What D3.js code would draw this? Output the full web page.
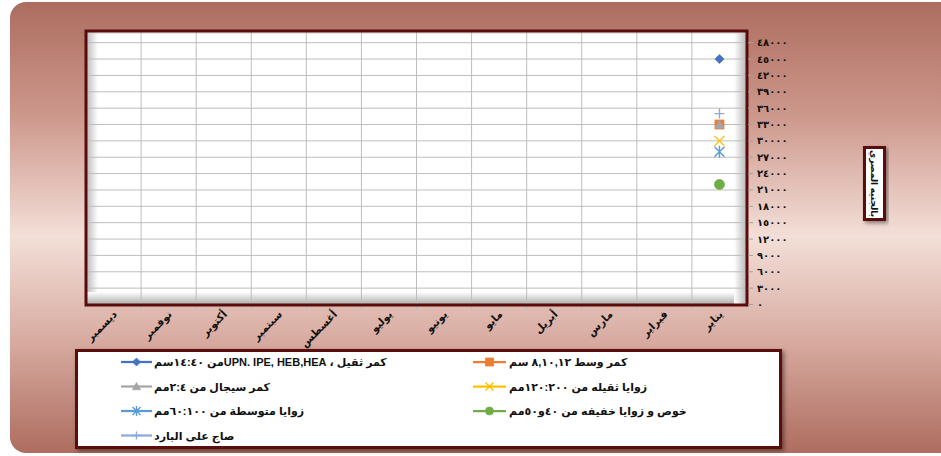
<!DOCTYPE html>
<html lang="ar">
<head>
<meta charset="utf-8">
<title>chart</title>
<script src="https://cdn.jsdelivr.net/npm/d3@7/dist/d3.min.js"></script>
<style>
  body { margin: 0; background: #fff; }
  svg { display: block; }
  text { font-family: "Liberation Sans", "DejaVu Sans", sans-serif; font-weight: bold; }
</style>
</head>
<body>
<script>
// ---- data ----
var months = ["يناير", "فبراير", "مارس", "أبريل", "مايو", "يونيو",
              "يوليو", "أغسطس", "سبتمبر", "أكتوبر", "نوفمبر", "ديسمبر"];

var seriesNames = [
  "كمر ثقيل ، UPN. IPE,   HEB,HEAمن ١٤:٤٠سم",
  "كمر وسط ٨,١٠,١٢ سم",
  "كمر سيجال من ٢:٤مم",
  "زوايا ثقيله من ١٢٠:٢٠٠مم",
  "زوايا متوسطة من ٦٠:١٠٠مم",
  "خوص و زوايا خفيفه من ٤٠و٥٠مم",
  "صاج على البارد"
];

var heavyBeams   = [45000, null, null, null, null, null, null, null, null, null, null, null];
var mediumBeams  = [33000, null, null, null, null, null, null, null, null, null, null, null];
var cigalBeams   = [33000, null, null, null, null, null, null, null, null, null, null, null];
var heavyAngles  = [30000, null, null, null, null, null, null, null, null, null, null, null];
var mediumAngles = [28000, null, null, null, null, null, null, null, null, null, null, null];
var lightAngles  = [22000, null, null, null, null, null, null, null, null, null, null, null];
var coldSheet    = [35000, null, null, null, null, null, null, null, null, null, null, null];

var yTicks = d3.range(0, 48001, 3000);
var yTitle = "بالجنيه المصري";

var seriesValues = [heavyBeams, mediumBeams, cigalBeams, heavyAngles, mediumAngles, lightAngles, coldSheet];
var colors = ["#4472C4", "#ED7D31", "#A5A5A5", "#FFC000", "#5B9BD5", "#70AD47", "#8EA9DB"];
var markers = ["diamond", "square", "triangle", "times", "asterisk", "circle", "plus"];

// ---- layout ----
var w = 941, h = 456;
var frameColor = "#5a0c0c";

function arDigits(n) {
  return String(n).replace(/\d/g, function(c) { return "٠١٢٣٤٥٦٧٨٩"[c]; });
}

var svg = d3.select("body").append("svg")
  .attr("width", w)
  .attr("height", h);

var defs = svg.append("defs");

var bg = defs.append("linearGradient").attr("id", "bg")
  .attr("x1", 0).attr("y1", 0).attr("x2", 0).attr("y2", 1);
bg.append("stop").attr("offset", "0").attr("stop-color", "#ac6d5f");
bg.append("stop").attr("offset", "0.25").attr("stop-color", "#cd978b");
bg.append("stop").attr("offset", "0.52").attr("stop-color", "#f3dfd8");
bg.append("stop").attr("offset", "0.75").attr("stop-color", "#d8aba1");
bg.append("stop").attr("offset", "1").attr("stop-color", "#ad6d5f");

function bevel(id, x1, y1, x2, y2, from, to) {
  var g = defs.append("linearGradient").attr("id", id)
    .attr("x1", x1).attr("y1", y1).attr("x2", x2).attr("y2", y2);
  g.append("stop").attr("offset", "0").attr("stop-color", from);
  g.append("stop").attr("offset", "1").attr("stop-color", to);
}
bevel("bevL", 0, 0, 1, 0, "#b8b8b8", "#ffffff");
bevel("bevB", 0, 0, 0, 1, "#ffffff", "#a8a8a8");
bevel("bevR", 0, 0, 1, 0, "#ffffff", "#b4b4b4");

var sh = defs.append("filter").attr("id", "shadow")
  .attr("x", "-10%").attr("y", "-10%").attr("width", "130%").attr("height", "140%");
sh.append("feDropShadow").attr("dx", 2).attr("dy", 2).attr("stdDeviation", 2)
  .attr("flood-color", "#000").attr("flood-opacity", 0.45);

// background
svg.append("rect")
  .attr("x", 10).attr("y", 2)
  .attr("width", 960).attr("height", 451)
  .attr("rx", 16)
  .attr("fill", "url(#bg)");

// plot frame
var px0 = 86, px1 = 747, py0 = 31, py1 = 305;

svg.append("rect")
  .attr("x", px0).attr("y", py0)
  .attr("width", px1 - px0).attr("height", py1 - py0)
  .attr("fill", "#fff");
svg.append("rect").attr("x", px0).attr("y", py0).attr("width", 12).attr("height", py1 - py0).attr("fill", "url(#bevL)");
svg.append("rect").attr("x", px0).attr("y", py1 - 13).attr("width", px1 - px0).attr("height", 13).attr("fill", "url(#bevB)");
svg.append("rect").attr("x", px1 - 13).attr("y", py0).attr("width", 13).attr("height", py1 - py0).attr("fill", "url(#bevR)");
svg.append("line").attr("x1", px0).attr("x2", px1).attr("y1", py0 + 2).attr("y2", py0 + 2)
  .attr("stroke", "#d0d0d0");

var x = d3.scaleBand().domain(months).range([px1, px0]);
var y = d3.scaleLinear().domain([0, 48000]).range([304.5, 42.7]);

// gridlines
svg.append("g").selectAll("line.h")
  .data(yTicks)
  .enter().append("line")
  .attr("x1", px0).attr("x2", px1)
  .attr("y1", function(d) { return y(d); })
  .attr("y2", function(d) { return y(d); })
  .attr("stroke", "#bdbdbd").attr("stroke-width", 1);

var bounds = months.map(function(m) { return x(m); }).concat([px1]);
svg.append("g").selectAll("line")
  .data(bounds)
  .enter().append("line")
  .attr("x1", function(d) { return d; })
  .attr("x2", function(d) { return d; })
  .attr("y1", py0).attr("y2", py1 + 5)
  .attr("stroke", "#bdbdbd").attr("stroke-width", 1);

svg.append("rect")
  .attr("x", px0).attr("y", py0)
  .attr("width", px1 - px0).attr("height", py1 - py0)
  .attr("fill", "none")
  .attr("stroke", frameColor).attr("stroke-width", 3);

// y axis on the right
var yAxis = svg.append("g");
yAxis.selectAll("line")
  .data(yTicks)
  .enter().append("line")
  .attr("x1", px1 + 1).attr("x2", px1 + 6)
  .attr("y1", function(d) { return y(d); })
  .attr("y2", function(d) { return y(d); })
  .attr("stroke", "#a0a0a0");
yAxis.selectAll("text")
  .data(yTicks)
  .enter().append("text")
  .attr("x", 757)
  .attr("y", function(d) { return y(d) + 3.5; })
  .attr("font-size", "10px")
  .attr("letter-spacing", "1.6px")
  .attr("fill", "#111")
  .text(function(d) { return arDigits(d); });

// x labels
svg.append("g").selectAll("text")
  .data(months)
  .enter().append("text")
  .attr("transform", function(d) {
    return "translate(" + (x(d) + x.bandwidth() / 2 + 4) + ",315) rotate(-45)";
  })
  .attr("direction", "rtl")
  .attr("text-anchor", "start")
  .attr("font-size", "10.5px")
  .attr("fill", "#111")
  .text(function(d) { return d; });

// markers
function markerPath(type, s) {
  var r = s / 2;
  switch (type) {
    case "diamond": return "M0," + (-r) + "L" + r + ",0L0," + r + "L" + (-r) + ",0Z";
    case "square": return "M" + (-r) + "," + (-r) + "h" + s + "v" + s + "h" + (-s) + "Z";
    case "triangle": return "M0," + (-r) + "L" + r + "," + (r * 0.8) + "L" + (-r) + "," + (r * 0.8) + "Z";
    case "times": return "M" + (-r) + "," + (-r) + "L" + r + "," + r + "M" + r + "," + (-r) + "L" + (-r) + "," + r;
    case "asterisk": return "M" + (-r) + "," + (-r) + "L" + r + "," + r + "M" + r + "," + (-r) + "L" + (-r) + "," + r + "M0," + (-r - 1) + "V" + (r + 1);
    case "plus": return "M" + (-r) + ",0H" + r + "M0," + (-r) + "V" + r;
    default: return d3.symbol().type(d3.symbolCircle).size(Math.PI * r * r)();
  }
}
function isStroke(type) { return type === "times" || type === "asterisk" || type === "plus"; }

function drawMarker(g, type, color, s) {
  g.append("path")
    .attr("d", markerPath(type, s))
    .attr("fill", isStroke(type) ? "none" : color)
    .attr("stroke", color)
    .attr("stroke-width", isStroke(type) ? 1.4 : 0.8);
}

var line = d3.line()
  .defined(function(d) { return d != null; })
  .x(function(d, i) { return x(months[i]) + x.bandwidth() / 2; })
  .y(function(d) { return y(d); });

var sizes = [9, 9, 9, 10, 10, 10, 10];

seriesValues.forEach(function(vals, si) {
  var g = svg.append("g");
  g.append("path")
    .attr("d", line(vals))
    .attr("fill", "none")
    .attr("stroke", colors[si]).attr("stroke-width", 2.25);
  vals.forEach(function(v, i) {
    if (v == null) return;
    var mg = g.append("g")
      .attr("transform", "translate(" + (x(months[i]) + x.bandwidth() / 2) + "," + y(v) + ")");
    drawMarker(mg, markers[si], colors[si], sizes[si]);
  });
});

// y title box
svg.append("rect")
  .attr("x", 864.5).attr("y", 147.5)
  .attr("width", 20).attr("height", 72)
  .attr("fill", "#fff")
  .attr("stroke", frameColor).attr("stroke-width", 3)
  .attr("filter", "url(#shadow)");
svg.append("text")
  .attr("transform", "translate(871,183.5) rotate(90)")
  .attr("direction", "rtl")
  .attr("text-anchor", "middle")
  .attr("font-size", "9px")
  .attr("fill", "#111")
  .text(yTitle);

// legend
svg.append("rect")
  .attr("x", 76.5).attr("y", 350.5)
  .attr("width", 704).attr("height", 97)
  .attr("fill", "#fff")
  .attr("stroke", frameColor).attr("stroke-width", 3)
  .attr("filter", "url(#shadow)");

var legCols = [{ x1: 121, x2: 152, tx: 154 }, { x1: 473, x2: 506, tx: 509 }];
var legRows = [362, 386.5, 411, 435.5];

seriesNames.forEach(function(name, si) {
  var c = legCols[si % 2], ry = legRows[Math.floor(si / 2)];
  var g = svg.append("g");
  g.append("line")
    .attr("x1", c.x1).attr("x2", c.x2)
    .attr("y1", ry).attr("y2", ry)
    .attr("stroke", colors[si]).attr("stroke-width", 2.25);
  var mg = g.append("g").attr("transform", "translate(" + ((c.x1 + c.x2) / 2) + "," + ry + ")");
  drawMarker(mg, markers[si], colors[si], 8);
  g.append("text")
    .attr("x", c.tx)
    .attr("y", ry + 4)
    .attr("direction", "rtl")
    .attr("text-anchor", "end")
    .attr("font-size", "11px")
    .attr("fill", "#111")
    .text(name);
});
</script>
</body>
</html>
